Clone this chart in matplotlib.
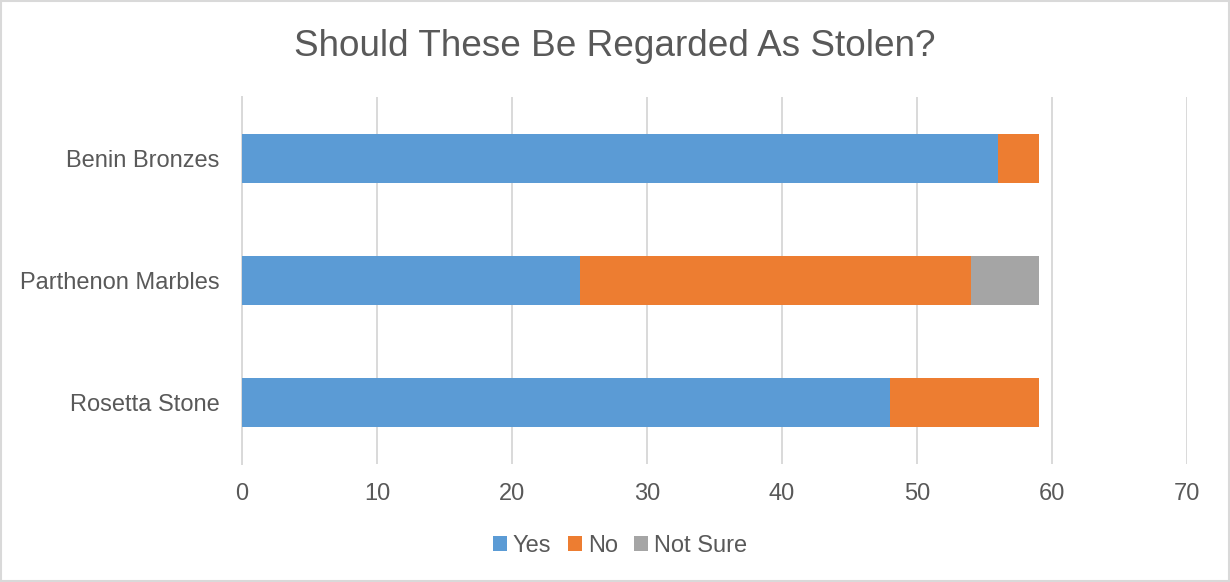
import matplotlib
matplotlib.use("Agg")
import matplotlib.pyplot as plt
from matplotlib.patches import Patch, Rectangle

plt.rcParams['font.family'] = ['Liberation Sans', 'DejaVu Sans']

# Survey results per artefact (top to bottom)
categories = ["Benin Bronzes", "Parthenon Marbles", "Rosetta Stone"]
yes = [56, 25, 48]
no = [3, 29, 11]
not_sure = [0, 5, 0]
series_names = ["Yes", "No", "Not Sure"]
colors = ["#5B9BD5", "#ED7D31", "#A5A5A5"]
x_ticks = [0, 10, 20, 30, 40, 50, 60, 70]

W, H = 1230, 582
fig = plt.figure(figsize=(W / 100, H / 100), dpi=100)
fig.patch.set_facecolor("white")
fig.patches.append(Rectangle((1 / W, 1 / H), 1 - 2 / W, 1 - 2 / H, transform=fig.transFigure,
                             fill=False, edgecolor="#D9D9D9", linewidth=1.5))

ax = fig.add_axes([242 / W, 1 - 464 / H, (1187 - 242) / W, (464 - 97) / H])

ypos = list(range(len(categories)))
left = [0] * len(categories)
for name, vals, col in zip(series_names, [yes, no, not_sure], colors):
    ax.barh(ypos, vals, left=left, height=0.4, color=col, label=name, zorder=3)
    left = [l + v for l, v in zip(left, vals)]

ax.set_ylim(len(categories) - 0.5, -0.5)
ax.set_xlim(x_ticks[0], x_ticks[-1])
ax.set_xticks(x_ticks)
ax.set_yticks(ypos)
ax.set_yticklabels(categories)

ax.grid(axis="x", color="#D9D9D9", linewidth=1.4, zorder=0)
for s in ["top", "right", "bottom"]:
    ax.spines[s].set_visible(False)
ax.spines["left"].set_color("#D9D9D9")
ax.spines["left"].set_linewidth(1.4)
ax.tick_params(axis="both", length=0, labelsize=17, labelcolor="#595959")
ax.tick_params(axis="y", pad=16)
ax.tick_params(axis="x", pad=13.5)

fig.text(0.5, 1 - 46 / H, "Should These Be Regarded As Stolen?", ha="center", va="center",
         fontsize=26.6, color="#595959")

handles = [Patch(facecolor=c, edgecolor="none") for c in colors]
fig.legend(handles, series_names, loc="center", bbox_to_anchor=(620 / W, 1 - 546 / H), ncol=3,
           frameon=False, fontsize=17, labelcolor="#595959", handlelength=0.6,
           handleheight=0.6, handletextpad=0.25, columnspacing=0.7, borderaxespad=0,
           borderpad=0)

fig.savefig("out.png", dpi=100, facecolor="white")
